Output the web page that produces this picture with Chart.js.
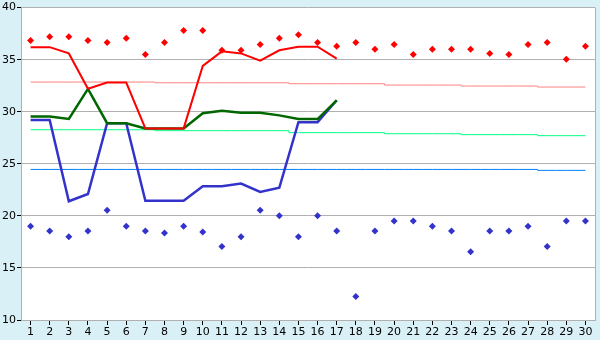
<!DOCTYPE html>
<html>
<head>
<meta charset="utf-8">
<script src="https://cdn.jsdelivr.net/npm/chart.js@4/dist/chart.umd.min.js"></script>
<style>
  html, body { margin: 0; padding: 0; background: #daf0f7; }
  #wrap { width: 600px; height: 340px; }
</style>
</head>
<body>
<div id="wrap"><canvas id="c"></canvas></div>
<script>
const days = ['1','2','3','4','5','6','7','8','9','10','11','12','13','14','15','16','17','18','19','20','21','22','23','24','25','26','27','28','29','30'];

// daily high / low marks
const highPoints = [36.85, 37.2, 37.2, 36.85, 36.65, 37.05, 35.5, 36.65, 37.8, 37.8, 35.9, 35.9, 36.45, 37.05, 37.4, 36.65, 36.3, 36.65, 36.0, 36.45, 35.5, 36.0, 36.0, 36.0, 35.6, 35.5, 36.45, 36.65, 35.05, 36.3];
const lowPoints = [19.0, 18.55, 18.0, 18.55, 20.55, 19.0, 18.55, 18.35, 19.0, 18.45, 17.05, 18.0, 20.55, 20.0, 18.0, 20.0, 18.55, 12.25, 18.55, 19.5, 19.5, 19.0, 18.55, 16.55, 18.55, 18.55, 19.0, 17.05, 19.5, 19.5];

// measured lines (first 17 days)
const redLine = [36.2, 36.2, 35.6, 32.2, 32.8, 32.8, 28.4, 28.4, 28.4, 34.4, 35.8, 35.6, 34.9, 35.9, 36.25, 36.25, 35.1];
const greenLine = [29.55, 29.55, 29.3, 32.2, 28.9, 28.9, 28.4, 28.4, 28.4, 29.85, 30.1, 29.9, 29.9, 29.65, 29.3, 29.3, 31.1];
const blueLine = [29.2, 29.2, 21.4, 22.1, 28.9, 28.9, 21.45, 21.45, 21.45, 22.85, 22.85, 23.1, 22.3, 22.7, 29.0, 29.0, 31.1];

// reference levels
const pinkRef = [32.85, 32.85, 32.85, 32.85, 32.85, 32.85, 32.85, 32.78, 32.78, 32.78, 32.78, 32.78, 32.78, 32.78, 32.69, 32.69, 32.69, 32.69, 32.69, 32.56, 32.56, 32.56, 32.56, 32.47, 32.47, 32.47, 32.47, 32.37, 32.37, 32.37];
const lightGreenRef = [28.27, 28.27, 28.27, 28.27, 28.27, 28.27, 28.27, 28.18, 28.18, 28.18, 28.18, 28.18, 28.18, 28.18, 27.99, 27.99, 27.99, 27.99, 27.99, 27.89, 27.89, 27.89, 27.89, 27.8, 27.8, 27.8, 27.8, 27.7, 27.7, 27.7];
const lightBlueRef = [24.46, 24.46, 24.46, 24.46, 24.46, 24.46, 24.46, 24.46, 24.46, 24.46, 24.46, 24.46, 24.46, 24.46, 24.46, 24.46, 24.46, 24.46, 24.46, 24.46, 24.46, 24.46, 24.46, 24.46, 24.46, 24.46, 24.46, 24.37, 24.37, 24.37];

const plotFrame = {
  id: 'plotFrame',
  beforeDraw(chart) {
    const { ctx, chartArea: { left, top, width, height } } = chart;
    ctx.save();
    ctx.fillStyle = '#daf0f7';
    ctx.fillRect(0, 0, chart.width, chart.height);
    ctx.fillStyle = '#ffffff';
    ctx.fillRect(left, top, width, height);
    ctx.restore();
  },
  afterDraw(chart) {
    const { ctx, chartArea: { right, top, bottom } } = chart;
    ctx.save();
    ctx.strokeStyle = '#b0b0b0';
    ctx.lineWidth = 1;
    ctx.beginPath();
    ctx.moveTo(Math.round(right) + 0.5, top);
    ctx.lineTo(Math.round(right) + 0.5, bottom);
    ctx.stroke();
    ctx.restore();
  }
};

const marks = (data, color) => ({
  data, showLine: false, pointStyle: 'rectRot', pointRadius: 3.5,
  pointBackgroundColor: color, pointBorderColor: color, pointBorderWidth: 0, borderColor: color
});
const line = (data, color, w) => ({
  data, borderColor: color, borderWidth: w, pointRadius: 0, tension: 0
});
const ref = (data, color) => ({
  data, borderColor: color, borderWidth: 1, pointRadius: 0, stepped: 'middle'
});

new Chart(document.getElementById('c'), {
  type: 'line',
  data: {
    labels: days,
    datasets: [
      marks(highPoints, '#ff0000'),
      marks(lowPoints, '#3333cc'),
      line(redLine, '#ff0000', 2),
      line(greenLine, '#006600', 2.5),
      line(blueLine, '#3333cc', 2.5),
      ref(pinkRef, '#ff8080'),
      ref(lightGreenRef, '#00ff80'),
      ref(lightBlueRef, '#0080ff'),
    ]
  },
  options: {
    responsive: true,
    maintainAspectRatio: false,
    animation: false,
    layout: { padding: { left: 0, right: 5, top: 5, bottom: 0 } },
    plugins: { legend: { display: false }, tooltip: { enabled: false } },
    scales: {
      x: {
        offset: true,
        border: { color: '#b0b0b0' },
        grid: { offset: false, drawOnChartArea: false, tickLength: 5, tickColor: '#000' },
        ticks: { color: '#000', font: { family: 'DejaVu Sans', size: 11 }, padding: 1, maxRotation: 0, autoSkip: false },
        afterFit(scale) { scale.height = 20; }
      },
      y: {
        min: 10, max: 40,
        border: { color: '#b0b0b0' },
        grid: { color: '#b0b0b0', tickLength: 4, tickColor: '#000' },
        ticks: { stepSize: 5, color: '#000', font: { family: 'DejaVu Sans', size: 11 }, padding: 1 },
        afterFit(scale) { scale.width = 21; }
      }
    }
  },
  plugins: [plotFrame]
});
</script>
</body>
</html>
